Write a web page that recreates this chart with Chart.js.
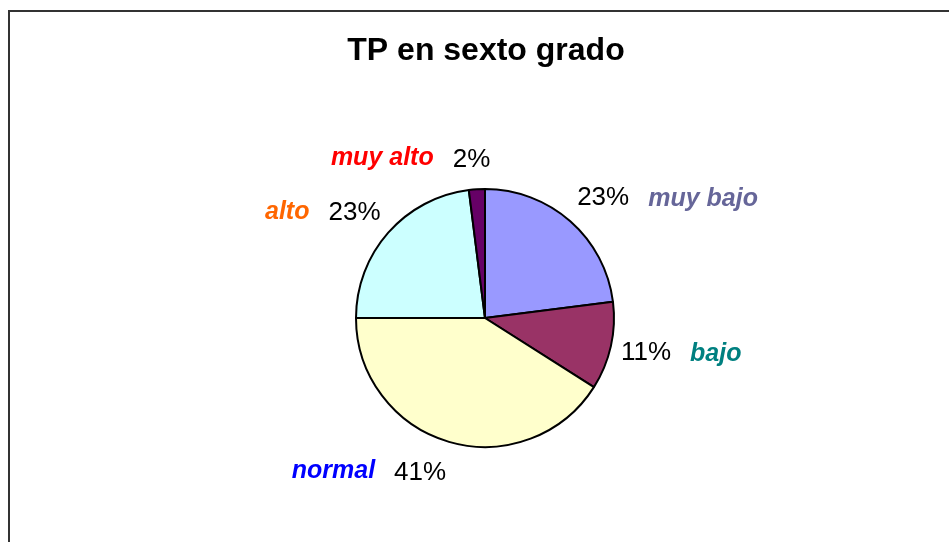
<!DOCTYPE html>
<html>
<head>
<meta charset="utf-8">
<script src="https://cdn.jsdelivr.net/npm/chart.js@4.4.0/dist/chart.umd.min.js"></script>
<style>
  html, body { margin: 0; padding: 0; background: #fff; }
  #wrap { width: 949px; height: 542px; position: relative; }
</style>
</head>
<body>
<div id="wrap"><canvas id="chart"></canvas></div>
<script>
  // Chart data.
  const titleText = 'TP en sexto grado';
  const categories = ['muy bajo', 'bajo', 'normal', 'alto', 'muy alto'];
  const percents = [23, 11, 41, 23, 2];
  const sliceColors = ['#9999FF', '#993366', '#FFFFCC', '#CCFFFF', '#660066'];
  const nameColors = ['#666699', '#008080', '#0000FF', '#FF6600', '#FF0000'];

  const FONT = '"Liberation Sans", Arial, sans-serif';

  // Outer frame, title and slice labels.
  const decorPlugin = {
    id: 'decor',
    beforeDraw: function (chart) {
      const ctx = chart.ctx;
      ctx.save();
      ctx.strokeStyle = '#333';
      ctx.lineWidth = 2;
      ctx.beginPath();
      ctx.moveTo(9, chart.height + 5);
      ctx.lineTo(9, 11);
      ctx.lineTo(chart.width + 5, 11);
      ctx.stroke();
      ctx.restore();
    },
    afterDraw: function (chart) {
      const ctx = chart.ctx;
      const meta = chart.getDatasetMeta(0);
      const first = meta.data[0];
      ctx.save();

      // Title.
      ctx.fillStyle = '#000';
      ctx.font = 'bold 32px ' + FONT;
      ctx.textAlign = 'center';
      ctx.textBaseline = 'middle';
      ctx.fillText(titleText, first.x + 1, 51);

      const gap = 19;
      const nameFont = 'italic bold 25px ' + FONT;
      const pctFont = '26px ' + FONT;
      meta.data.forEach(function (arc, i) {
        const mid = (arc.startAngle + arc.endAngle) / 2;
        const r = arc.outerRadius;
        const c = Math.cos(mid);
        let ax = arc.x + c * r * 1.08;
        const ay = arc.y + Math.sin(mid) * r * 1.24;
        // labels of slices close to the top sit a bit more to the right
        if (Math.abs(c) < 0.15) {
          ax += 14;
        }
        const name = categories[i];
        const pct = percents[i] + '%';
        ctx.font = nameFont;
        const wName = ctx.measureText(name).width;
        ctx.font = pctFont;
        const wPct = ctx.measureText(pct).width;
        ctx.textAlign = 'left';
        ctx.textBaseline = 'middle';
        if (c >= 0) {
          // right side: "pct  name"
          ctx.font = pctFont;
          ctx.fillStyle = '#000';
          ctx.fillText(pct, ax, ay);
          ctx.font = nameFont;
          ctx.fillStyle = nameColors[i];
          ctx.fillText(name, ax + wPct + gap, ay + 1);
        } else {
          // left side: "name  pct"
          const left = ax - wName - gap - wPct;
          ctx.font = nameFont;
          ctx.fillStyle = nameColors[i];
          ctx.fillText(name, left, ay);
          ctx.font = pctFont;
          ctx.fillStyle = '#000';
          ctx.fillText(pct, left + wName + gap, ay + 1);
        }
      });
      ctx.restore();
    }
  };

  const ctx = document.getElementById('chart').getContext('2d');
  new Chart(ctx, {
    type: 'pie',
    data: {
      labels: categories,
      datasets: [{
        data: percents,
        backgroundColor: sliceColors,
        borderColor: '#000',
        borderWidth: 2,
        borderAlign: 'center'
      }]
    },
    options: {
      responsive: true,
      maintainAspectRatio: false,
      animation: false,
      layout: {
        padding: { left: 355, right: 334, top: 188, bottom: 94 }
      },
      plugins: {
        legend: { display: false },
        tooltip: { enabled: false },
        title: { display: false }
      }
    },
    plugins: [decorPlugin]
  });
</script>
</body>
</html>
